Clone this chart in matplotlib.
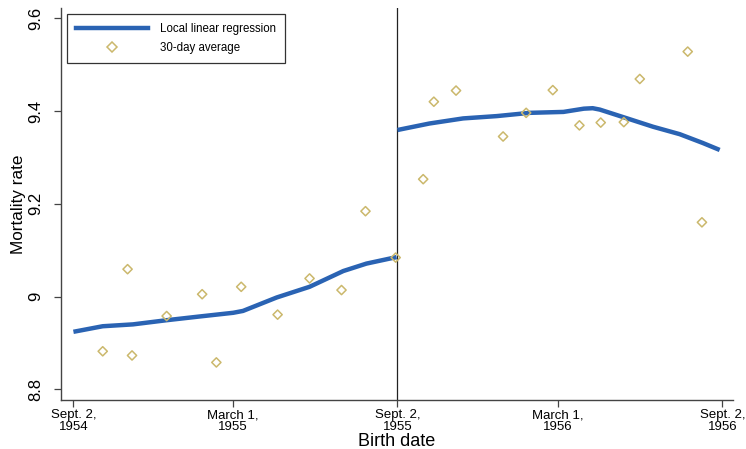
import matplotlib
matplotlib.use("Agg")
import matplotlib.pyplot as plt
from matplotlib.lines import Line2D

plt.rcParams['font.family'] = ['Liberation Sans', 'DejaVu Sans']

# x values: days relative to Sept. 2, 1955 (cutoff)
left_pts_x = [-332, -304, -299, -260, -220, -204, -176, -135, -99, -63, -36, -2]
left_pts_y = [8.882, 9.059, 8.873, 8.958, 9.005, 8.858, 9.021, 8.961, 9.039, 9.014, 9.184, 9.084]
right_pts_x = [29, 41, 66, 119, 145, 175, 205, 229, 255, 273, 327, 343]
right_pts_y = [9.253, 9.420, 9.444, 9.345, 9.396, 9.445, 9.369, 9.375, 9.376, 9.469, 9.528, 9.160]

left_fit_x = [-365, -332, -298, -260, -223, -185, -174, -136, -99, -61, -35, -1]
left_fit_y = [8.924, 8.936, 8.940, 8.949, 8.957, 8.965, 8.969, 8.998, 9.021, 9.055, 9.071, 9.085]
right_fit_x = [0, 36, 74, 112, 149, 187, 210, 220, 228, 254, 288, 318, 344, 363]
right_fit_y = [9.359, 9.373, 9.384, 9.389, 9.396, 9.398, 9.405, 9.406, 9.403, 9.387, 9.366, 9.350, 9.331, 9.316]

xtick_pos = [-365, -185, 0, 181, 366]
xtick_labels = ["Sept. 2,\n1954", "March 1,\n1955", "Sept. 2,\n1955", "March 1,\n1956", "Sept. 2,\n1956"]
ytick_pos = [8.8, 9.0, 9.2, 9.4, 9.6]
ytick_labels = ["8.8", "9", "9.2", "9.4", "9.6"]

line_color = '#2a63b3'
mark_color = '#cbb86c'

fig = plt.figure(figsize=(7.46, 4.49), dpi=100)
ax = fig.add_axes([61/746, 49/449, (733-61)/746, (400-8)/449])

ax.plot(left_fit_x, left_fit_y, color=line_color, lw=3.2, solid_capstyle='butt', zorder=3)
ax.plot(right_fit_x, right_fit_y, color=line_color, lw=3.2, solid_capstyle='butt', zorder=3)
ax.scatter(left_pts_x + right_pts_x, left_pts_y + right_pts_y, marker='D', s=22,
           facecolors='none', edgecolors=mark_color, linewidths=1.1, zorder=4)
ax.axvline(0, color='#222222', lw=0.9, zorder=2)

ax.set_xlim(-379, 378)
ax.set_ylim(8.777, 9.622)
ax.set_xticks(xtick_pos)
ax.set_xticklabels(xtick_labels, fontsize=9.5, linespacing=0.95)
ax.set_yticks(ytick_pos)
ax.set_yticklabels(ytick_labels, fontsize=12, rotation=90, va='center')
for s in ['top', 'right']:
    ax.spines[s].set_visible(False)
for s in ['left', 'bottom']:
    ax.spines[s].set_color('#444444')
    ax.spines[s].set_linewidth(1.0)
ax.tick_params(axis='both', direction='out', length=5, width=0.9, color='#444444')
ax.tick_params(axis='x', pad=1.5)
ax.tick_params(axis='y', pad=7.5)
ax.set_xlabel("Birth date", fontsize=13, labelpad=0)
ax.set_ylabel("Mortality rate", fontsize=12.3, labelpad=2)

handles = [Line2D([0], [0], color=line_color, lw=3.2),
           Line2D([0], [0], marker='D', color='none', markerfacecolor='none',
                  markeredgecolor=mark_color, markersize=5, markeredgewidth=1.1)]
leg = ax.legend(handles, ["Local linear regression", "30-day average"],
                loc='upper left', bbox_to_anchor=(6/672, 1 - 6/392), fontsize=8.3,
                frameon=True, fancybox=False, edgecolor='black', handlelength=6.3,
                borderpad=0.75, labelspacing=0.65, handletextpad=1.05, borderaxespad=0)
leg.get_frame().set_linewidth(0.9)

fig.savefig("out.png", dpi=100)
